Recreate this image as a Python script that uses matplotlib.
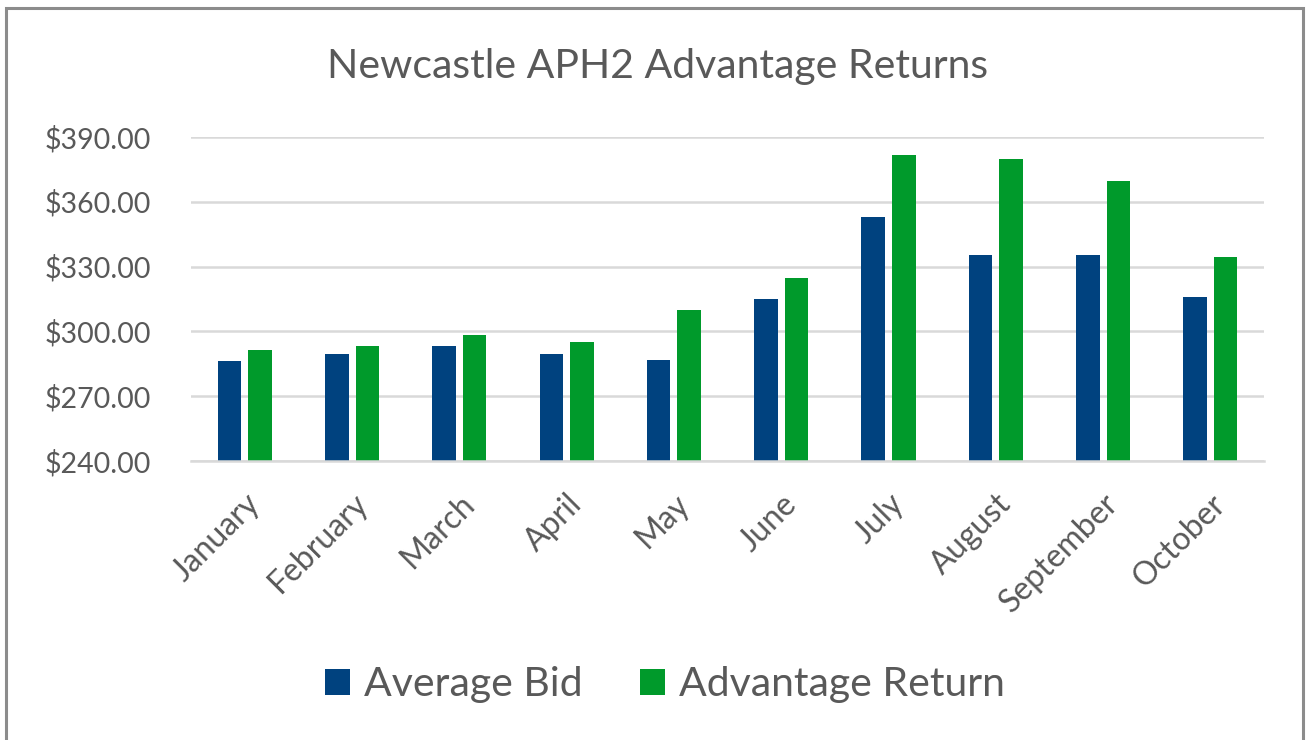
import matplotlib
matplotlib.use("Agg")
import matplotlib.pyplot as plt
import numpy as np
from matplotlib.patches import Rectangle
from matplotlib.ticker import FuncFormatter

months = ["January", "February", "March", "April", "May", "June",
          "July", "August", "September", "October"]
average_bid = [286.1, 289.5, 293.0, 289.5, 286.8, 314.8, 352.7, 335.2, 335.2, 315.9]
advantage_return = [291.3, 293.0, 298.3, 294.9, 309.7, 324.5, 381.7, 379.9, 369.4, 334.3]
y_ticks = [240, 270, 300, 330, 360, 390]

BLUE = "#00427F"
GREEN = "#009A2B"
TEXT = "#595959"
GRID = "#D9D9D9"

plt.rcParams['font.family'] = ['Lato', 'DejaVu Sans']

fig = plt.figure(figsize=(13.09, 7.40), dpi=100)
ax = fig.add_axes([0.146, 0.377, 0.8196, 0.438])

x = np.arange(len(months))
w = 0.22
gap = 0.065
ax.bar(x - (w + gap) / 2, average_bid, width=w, color=BLUE, label="Average Bid", zorder=3)
ax.bar(x + (w + gap) / 2, advantage_return, width=w, color=GREEN, label="Advantage Return", zorder=3)

ax.set_xlim(-0.5, len(months) - 0.5)
ax.set_ylim(240, 390)
ax.set_yticks(y_ticks)
ax.yaxis.set_major_formatter(FuncFormatter(lambda v, p: f"${v:,.2f}"))
ax.grid(axis='y', color=GRID, linewidth=1.8, zorder=0)
ax.set_axisbelow(True)
for s in ['top', 'right', 'left']:
    ax.spines[s].set_visible(False)
ax.spines['bottom'].set_color(GRID)
ax.spines['bottom'].set_linewidth(1.8)
ax.spines['bottom'].set_zorder(4)

ax.set_xticks(x)
ax.set_xticklabels(months, rotation=45, ha='right', rotation_mode='anchor',
                   fontsize=23, color=TEXT)
ax.tick_params(axis='x', length=0, pad=20)
ax.tick_params(axis='y', length=0, pad=29, labelsize=20.5, labelcolor=TEXT)

fig.text(0.502, 0.910, "Newcastle APH2 Advantage Returns", ha='center', va='center',
         fontsize=29.5, color=TEXT)

leg = fig.legend(loc='center', bbox_to_anchor=(0.508, 0.075), ncol=2, frameon=False,
                 fontsize=29.5, handlelength=0.6, handleheight=0.6, handletextpad=0.35,
                 columnspacing=1.4)
for t in leg.get_texts():
    t.set_color(TEXT)

fig.patches.append(Rectangle((6 / 1309, -0.02), 1297 / 1309, 1.0 - 8 / 740 + 0.02,
                             transform=fig.transFigure, fill=False,
                             edgecolor="#8C8C8C", linewidth=2.2, zorder=10))

fig.savefig("out.png", dpi=100, facecolor="white")
